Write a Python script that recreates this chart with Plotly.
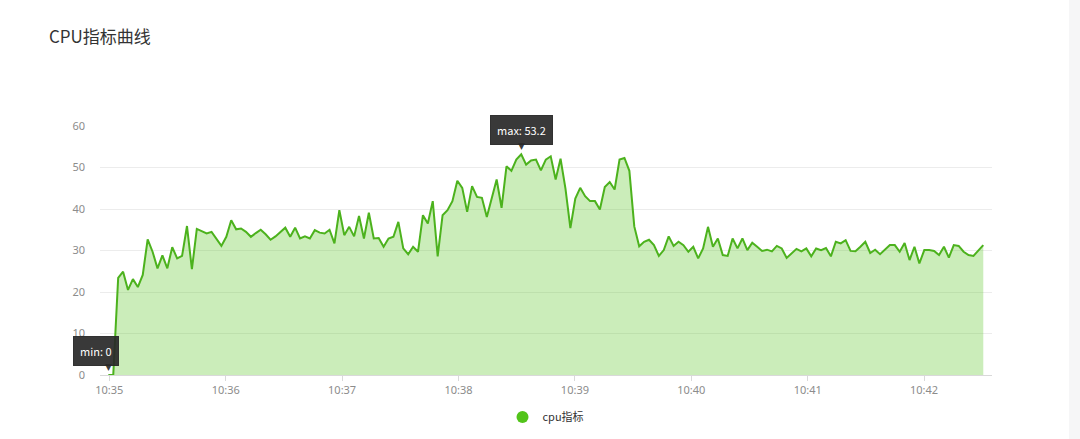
import numpy as np
import pandas as pd
import plotly.graph_objects as go

title_text = "CPU指标曲线"
series_name = "cpu指标"
start_time = "2019-06-01 10:34:59.5"
end_time = "2019-06-01 10:42:30.5"

cpu_values = [
    0, 0, 23.4, 24.9, 20.5, 23.1, 21.2, 24.1, 32.7, 29.7,
    25.7, 28.8, 25.7, 30.8, 28.1, 28.7, 35.9, 25.5, 35.2, 34.7,
    34.1, 34.5, 32.9, 31.1, 33.3, 37.3, 35.1, 35.3, 34.5, 33.3,
    34.2, 35.0, 33.9, 32.6, 33.4, 34.5, 35.5, 33.3, 35.5, 32.9,
    33.4, 32.9, 34.9, 34.3, 34.1, 35.0, 31.7, 39.7, 33.7, 35.7,
    33.4, 38.3, 32.9, 39.1, 32.9, 33.0, 30.9, 32.9, 33.3, 36.9,
    30.5, 29.1, 30.9, 29.7, 38.5, 36.5, 41.9, 28.6, 38.5,
    39.7, 41.9, 46.8, 45.1, 39.3, 45.5, 42.9, 42.7, 38.1, 42.3,
    47.1, 40.3, 50.3, 49.2, 51.9, 53.2, 50.7, 51.7, 51.9, 49.3,
    51.9, 52.7, 47.1, 52.1, 44.9, 35.4, 42.5, 45.1, 43.1, 41.9,
    41.9, 39.9, 45.3, 46.5, 44.7, 51.9, 52.3,
    49.2, 35.8, 31.0, 32.1, 32.6, 31.3, 28.7, 30.1, 33.4, 31.1,
    32.1, 31.3, 29.7, 30.9, 28.1, 30.5, 35.7, 30.9, 32.9, 28.9,
    28.7, 32.9, 30.5, 32.9, 30.1, 31.9, 30.9, 29.9, 30.2, 29.8,
    31.1, 30.5, 28.2, 29.4, 30.4, 29.8,
    30.5, 28.6, 30.5, 30.1, 30.6, 28.6, 32.1, 31.7, 32.5, 29.9,
    29.8, 30.9, 32.1, 29.4, 30.2, 29.1, 30.1, 31.3, 31.3, 29.7,
    31.8, 27.7, 30.9, 26.9, 30.1, 30.1, 29.9, 28.9, 30.9, 28.3,
    31.3, 31.1, 29.7, 28.9, 28.7, 29.9, 31.3,
]

tick_times = ["10:35", "10:36", "10:37", "10:38", "10:39", "10:40", "10:41", "10:42"]
y_ticks = [0, 10, 20, 30, 40, 50, 60]

times = pd.date_range(start_time, end_time, periods=len(cpu_values))
tick_vals = [pd.Timestamp("2019-06-01 " + t + ":00") for t in tick_times]

LINE = "#4cb21d"
FILL = "rgba(82,196,26,0.30)"
FONT = "Noto Sans CJK SC, Noto Sans, sans-serif"

fig = go.Figure()
fig.add_trace(go.Scatter(
    x=times, y=cpu_values, mode="lines", name=series_name,
    line=dict(color=LINE, width=2), fill="tozeroy", fillcolor=FILL,
    showlegend=False, hoverinfo="x+y",
))
# legend entry with round marker
fig.add_trace(go.Scatter(
    x=[None], y=[None], mode="markers", name=series_name,
    marker=dict(color="#52c41a", size=10, symbol="circle"),
    showlegend=True,
))

vals = np.array(cpu_values)
i_max = int(np.argmax(vals))
i_min = int(np.argmin(vals))

tip_bg = "rgba(40,40,40,0.92)"
for idx, label, xs in [(i_max, f"max: {vals[i_max]:g}", 0), (i_min, f"min: {vals[i_min]:g}", -12)]:
    fig.add_annotation(
        x=times[idx], y=vals[idx], xref="x", yref="y",
        text=label, showarrow=False, xanchor="center", yanchor="bottom",
        yshift=9, xshift=xs, bgcolor=tip_bg, bordercolor=tip_bg,
        borderwidth=1, borderpad=6,
        font=dict(family=FONT, size=11, color="white"),
    )
    fig.add_annotation(
        x=times[idx], y=vals[idx], xref="x", yref="y",
        text="▼", showarrow=False, xanchor="center", yanchor="bottom",
        yshift=1, font=dict(family="DejaVu Sans", size=9, color=tip_bg),
    )

# light strip on the right edge of the page
fig.add_shape(type="rect", xref="paper", yref="paper",
              x0=1.0863, x1=1.2, y0=-0.3, y1=1.6,
              fillcolor="#f6f6f7", line=dict(width=0), layer="below")

fig.update_layout(
    width=1080, height=439,
    margin=dict(l=100, r=88, t=126, b=64, autoexpand=False),
    paper_bgcolor="white", plot_bgcolor="white",
    title=dict(text=title_text, x=49/1080, xanchor="left", xref="container",
               y=1-37/439, yanchor="middle", yref="container",
               font=dict(family=FONT, size=17, color="#333")),
    showlegend=True,
    legend=dict(orientation="h", x=0.5, xanchor="center", xref="paper",
                y=1-417/439, yanchor="middle", yref="container",
                font=dict(family=FONT, size=11, color="#333"),
                itemsizing="constant"),
    font=dict(family=FONT),
)
fig.update_xaxes(
    type="date",
    range=[pd.Timestamp("2019-06-01 10:34:55.2"), pd.Timestamp("2019-06-01 10:42:35")],
    tickvals=tick_vals, ticktext=tick_times,
    ticks="outside", ticklen=5, tickcolor="#d9d9d9",
    showline=True, linecolor="#d9d9d9", linewidth=1,
    showgrid=False, zeroline=False, automargin=False,
    tickfont=dict(family="Noto Sans", size=11, color="#8c8c8c"),
)
fig.update_yaxes(
    range=[0, 60], tickvals=y_ticks,
    showgrid=True, gridcolor="#ececec", gridwidth=1,
    zeroline=False, showline=False, ticks="", automargin=False,
    ticklabelstandoff=14,
    tickfont=dict(family="Noto Sans", size=11, color="#8c8c8c"),
)

fig.write_html(
    "out.html",
    config={"displayModeBar": False},
    post_script="document.body.style.margin='0';document.body.style.overflow='hidden';",
)
